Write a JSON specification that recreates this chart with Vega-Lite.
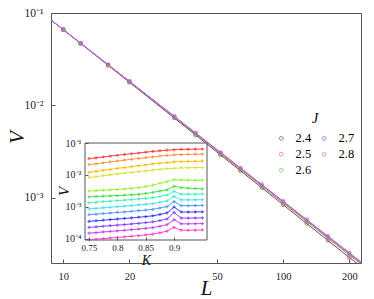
{
  "$schema": "https://vega.github.io/schema/vega-lite/v6.json",
  "width": 310,
  "height": 250,
  "autosize": {"type": "none"},
  "padding": {"left": 51, "top": 13, "right": 13, "bottom": 36},
  "config": {
    "font": "Liberation Serif",
    "view": {"stroke": "#555", "strokeWidth": 1},
    "axis": {"grid": false, "labelFont": "Liberation Serif", "titleFont": "Liberation Serif", "domainColor": "#555", "tickColor": "#555", "labelColor": "#222", "titleColor": "#111", "titleFontWeight": "normal"}
  },
  "datasets": {
    "pts": [
      {"J": "2.4", "L": 10, "V": 0.0661}, {"J": "2.4", "L": 12, "V": 0.0468}, {"J": "2.4", "L": 16, "V": 0.0271}, {"J": "2.4", "L": 20, "V": 0.01774}, {"J": "2.4", "L": 32, "V": 0.00729}, {"J": "2.4", "L": 40, "V": 0.00476}, {"J": "2.4", "L": 52, "V": 0.0029}, {"J": "2.4", "L": 64, "V": 0.00195}, {"J": "2.4", "L": 80, "V": 0.00128}, {"J": "2.4", "L": 100, "V": 0.000838}, {"J": "2.4", "L": 128, "V": 0.000524}, {"J": "2.4", "L": 160, "V": 0.000343}, {"J": "2.4", "L": 200, "V": 0.000225},
      {"J": "2.5", "L": 10, "V": 0.0661}, {"J": "2.5", "L": 12, "V": 0.0469}, {"J": "2.5", "L": 16, "V": 0.02735}, {"J": "2.5", "L": 20, "V": 0.01799}, {"J": "2.5", "L": 32, "V": 0.00746}, {"J": "2.5", "L": 40, "V": 0.0049}, {"J": "2.5", "L": 52, "V": 0.00299}, {"J": "2.5", "L": 64, "V": 0.00203}, {"J": "2.5", "L": 80, "V": 0.00133}, {"J": "2.5", "L": 100, "V": 0.000877}, {"J": "2.5", "L": 128, "V": 0.000552}, {"J": "2.5", "L": 160, "V": 0.000363}, {"J": "2.5", "L": 200, "V": 0.000239},
      {"J": "2.6", "L": 10, "V": 0.0661}, {"J": "2.6", "L": 12, "V": 0.047}, {"J": "2.6", "L": 16, "V": 0.02747}, {"J": "2.6", "L": 20, "V": 0.0181}, {"J": "2.6", "L": 32, "V": 0.00752}, {"J": "2.6", "L": 40, "V": 0.00496}, {"J": "2.6", "L": 52, "V": 0.00304}, {"J": "2.6", "L": 64, "V": 0.00206}, {"J": "2.6", "L": 80, "V": 0.00136}, {"J": "2.6", "L": 100, "V": 0.000895}, {"J": "2.6", "L": 128, "V": 0.000565}, {"J": "2.6", "L": 160, "V": 0.000372}, {"J": "2.6", "L": 200, "V": 0.000245},
      {"J": "2.7", "L": 10, "V": 0.0661}, {"J": "2.7", "L": 12, "V": 0.047}, {"J": "2.7", "L": 16, "V": 0.02754}, {"J": "2.7", "L": 20, "V": 0.01818}, {"J": "2.7", "L": 32, "V": 0.00757}, {"J": "2.7", "L": 40, "V": 0.005}, {"J": "2.7", "L": 52, "V": 0.00307}, {"J": "2.7", "L": 64, "V": 0.00208}, {"J": "2.7", "L": 80, "V": 0.00137}, {"J": "2.7", "L": 100, "V": 0.000908}, {"J": "2.7", "L": 128, "V": 0.000573}, {"J": "2.7", "L": 160, "V": 0.000378}, {"J": "2.7", "L": 200, "V": 0.00025},
      {"J": "2.8", "L": 10, "V": 0.0661}, {"J": "2.8", "L": 12, "V": 0.0471}, {"J": "2.8", "L": 16, "V": 0.02759}, {"J": "2.8", "L": 20, "V": 0.01823}, {"J": "2.8", "L": 32, "V": 0.00761}, {"J": "2.8", "L": 40, "V": 0.00503}, {"J": "2.8", "L": 52, "V": 0.00309}, {"J": "2.8", "L": 64, "V": 0.0021}, {"J": "2.8", "L": 80, "V": 0.00139}, {"J": "2.8", "L": 100, "V": 0.000916}, {"J": "2.8", "L": 128, "V": 0.000579}, {"J": "2.8", "L": 160, "V": 0.000383}, {"J": "2.8", "L": 200, "V": 0.000253}
    ],
    "fit": [
      {"J": "2.4", "L": 8.8, "V": 0.0842}, {"J": "2.4", "L": 230, "V": 0.0001725},
      {"J": "2.5", "L": 8.8, "V": 0.084}, {"J": "2.5", "L": 230, "V": 0.0001837},
      {"J": "2.6", "L": 8.8, "V": 0.0839}, {"J": "2.6", "L": 230, "V": 0.0001889},
      {"J": "2.7", "L": 8.8, "V": 0.0838}, {"J": "2.7", "L": 230, "V": 0.0001925},
      {"J": "2.8", "L": 8.8, "V": 0.0838}, {"J": "2.8", "L": 230, "V": 0.000195}
    ],
    "box": [
      {"K": 0.743, "K2": 0.958, "V": 0.00009, "V2": 0.1}
    ],
    "inset": [
      {"c": 0, "K": 0.75, "V": 0.0324}, {"c": 0, "K": 0.7625, "V": 0.0342}, {"c": 0, "K": 0.775, "V": 0.0364}, {"c": 0, "K": 0.7875, "V": 0.0387}, {"c": 0, "K": 0.8, "V": 0.0412}, {"c": 0, "K": 0.8125, "V": 0.0436}, {"c": 0, "K": 0.825, "V": 0.046}, {"c": 0, "K": 0.8375, "V": 0.0486}, {"c": 0, "K": 0.85, "V": 0.0514}, {"c": 0, "K": 0.8625, "V": 0.0543}, {"c": 0, "K": 0.875, "V": 0.057}, {"c": 0, "K": 0.8875, "V": 0.0594}, {"c": 0, "K": 0.9, "V": 0.0615}, {"c": 0, "K": 0.9125, "V": 0.0628}, {"c": 0, "K": 0.925, "V": 0.0637}, {"c": 0, "K": 0.9375, "V": 0.0641}, {"c": 0, "K": 0.95, "V": 0.0646},
      {"c": 1, "K": 0.75, "V": 0.0209}, {"c": 1, "K": 0.7625, "V": 0.0222}, {"c": 1, "K": 0.775, "V": 0.0238}, {"c": 1, "K": 0.7875, "V": 0.0255}, {"c": 1, "K": 0.8, "V": 0.0272}, {"c": 1, "K": 0.8125, "V": 0.029}, {"c": 1, "K": 0.825, "V": 0.0308}, {"c": 1, "K": 0.8375, "V": 0.0327}, {"c": 1, "K": 0.85, "V": 0.0348}, {"c": 1, "K": 0.8625, "V": 0.0369}, {"c": 1, "K": 0.875, "V": 0.039}, {"c": 1, "K": 0.8875, "V": 0.0407}, {"c": 1, "K": 0.9, "V": 0.0424}, {"c": 1, "K": 0.9125, "V": 0.0434}, {"c": 1, "K": 0.925, "V": 0.044}, {"c": 1, "K": 0.9375, "V": 0.0444}, {"c": 1, "K": 0.95, "V": 0.0447},
      {"c": 2, "K": 0.75, "V": 0.012}, {"c": 2, "K": 0.7625, "V": 0.0128}, {"c": 2, "K": 0.775, "V": 0.0138}, {"c": 2, "K": 0.7875, "V": 0.0148}, {"c": 2, "K": 0.8, "V": 0.016}, {"c": 2, "K": 0.8125, "V": 0.017}, {"c": 2, "K": 0.825, "V": 0.0182}, {"c": 2, "K": 0.8375, "V": 0.0194}, {"c": 2, "K": 0.85, "V": 0.0206}, {"c": 2, "K": 0.8625, "V": 0.022}, {"c": 2, "K": 0.875, "V": 0.0233}, {"c": 2, "K": 0.8875, "V": 0.0244}, {"c": 2, "K": 0.9, "V": 0.0255}, {"c": 2, "K": 0.9125, "V": 0.0261}, {"c": 2, "K": 0.925, "V": 0.0265}, {"c": 2, "K": 0.9375, "V": 0.0267}, {"c": 2, "K": 0.95, "V": 0.0269},
      {"c": 3, "K": 0.75, "V": 0.00832}, {"c": 3, "K": 0.7625, "V": 0.00881}, {"c": 3, "K": 0.775, "V": 0.0094}, {"c": 3, "K": 0.7875, "V": 0.01}, {"c": 3, "K": 0.8, "V": 0.0107}, {"c": 3, "K": 0.8125, "V": 0.0113}, {"c": 3, "K": 0.825, "V": 0.012}, {"c": 3, "K": 0.8375, "V": 0.0127}, {"c": 3, "K": 0.85, "V": 0.0134}, {"c": 3, "K": 0.8625, "V": 0.0142}, {"c": 3, "K": 0.875, "V": 0.0149}, {"c": 3, "K": 0.8875, "V": 0.0156}, {"c": 3, "K": 0.9, "V": 0.0161}, {"c": 3, "K": 0.9125, "V": 0.0165}, {"c": 3, "K": 0.925, "V": 0.0167}, {"c": 3, "K": 0.9375, "V": 0.0169}, {"c": 3, "K": 0.95, "V": 0.017},
      {"c": 4, "K": 0.75, "V": 0.00309}, {"c": 4, "K": 0.7625, "V": 0.00319}, {"c": 4, "K": 0.775, "V": 0.00329}, {"c": 4, "K": 0.7875, "V": 0.0034}, {"c": 4, "K": 0.8, "V": 0.0035}, {"c": 4, "K": 0.8125, "V": 0.00361}, {"c": 4, "K": 0.825, "V": 0.00376}, {"c": 4, "K": 0.8375, "V": 0.00397}, {"c": 4, "K": 0.85, "V": 0.0043}, {"c": 4, "K": 0.8625, "V": 0.00475}, {"c": 4, "K": 0.875, "V": 0.00543}, {"c": 4, "K": 0.8875, "V": 0.00615}, {"c": 4, "K": 0.9, "V": 0.00708}, {"c": 4, "K": 0.9125, "V": 0.00684}, {"c": 4, "K": 0.925, "V": 0.00676}, {"c": 4, "K": 0.9375, "V": 0.00676}, {"c": 4, "K": 0.95, "V": 0.00676},
      {"c": 5, "K": 0.75, "V": 0.00204}, {"c": 5, "K": 0.7625, "V": 0.00209}, {"c": 5, "K": 0.775, "V": 0.00214}, {"c": 5, "K": 0.7875, "V": 0.00219}, {"c": 5, "K": 0.8, "V": 0.00224}, {"c": 5, "K": 0.8125, "V": 0.00229}, {"c": 5, "K": 0.825, "V": 0.00236}, {"c": 5, "K": 0.8375, "V": 0.00245}, {"c": 5, "K": 0.85, "V": 0.0026}, {"c": 5, "K": 0.8625, "V": 0.0028}, {"c": 5, "K": 0.875, "V": 0.00309}, {"c": 5, "K": 0.8875, "V": 0.00339}, {"c": 5, "K": 0.9, "V": 0.00437}, {"c": 5, "K": 0.9125, "V": 0.00398}, {"c": 5, "K": 0.925, "V": 0.0038}, {"c": 5, "K": 0.9375, "V": 0.00372}, {"c": 5, "K": 0.95, "V": 0.00363},
      {"c": 6, "K": 0.75, "V": 0.00133}, {"c": 6, "K": 0.7625, "V": 0.00138}, {"c": 6, "K": 0.775, "V": 0.00144}, {"c": 6, "K": 0.7875, "V": 0.00149}, {"c": 6, "K": 0.8, "V": 0.00155}, {"c": 6, "K": 0.8125, "V": 0.00161}, {"c": 6, "K": 0.825, "V": 0.00167}, {"c": 6, "K": 0.8375, "V": 0.00175}, {"c": 6, "K": 0.85, "V": 0.00183}, {"c": 6, "K": 0.8625, "V": 0.00192}, {"c": 6, "K": 0.875, "V": 0.0021}, {"c": 6, "K": 0.8875, "V": 0.00233}, {"c": 6, "K": 0.9, "V": 0.00302}, {"c": 6, "K": 0.9125, "V": 0.00248}, {"c": 6, "K": 0.925, "V": 0.00247}, {"c": 6, "K": 0.9375, "V": 0.00249}, {"c": 6, "K": 0.95, "V": 0.00251},
      {"c": 7, "K": 0.75, "V": 0.000851}, {"c": 7, "K": 0.7625, "V": 0.000885}, {"c": 7, "K": 0.775, "V": 0.000923}, {"c": 7, "K": 0.7875, "V": 0.000959}, {"c": 7, "K": 0.8, "V": 0.001}, {"c": 7, "K": 0.8125, "V": 0.00104}, {"c": 7, "K": 0.825, "V": 0.00108}, {"c": 7, "K": 0.8375, "V": 0.00114}, {"c": 7, "K": 0.85, "V": 0.00119}, {"c": 7, "K": 0.8625, "V": 0.00125}, {"c": 7, "K": 0.875, "V": 0.00138}, {"c": 7, "K": 0.8875, "V": 0.00153}, {"c": 7, "K": 0.9, "V": 0.00209}, {"c": 7, "K": 0.9125, "V": 0.00164}, {"c": 7, "K": 0.925, "V": 0.00163}, {"c": 7, "K": 0.9375, "V": 0.00164}, {"c": 7, "K": 0.95, "V": 0.00166},
      {"c": 8, "K": 0.75, "V": 0.000562}, {"c": 8, "K": 0.7625, "V": 0.000585}, {"c": 8, "K": 0.775, "V": 0.00061}, {"c": 8, "K": 0.7875, "V": 0.000634}, {"c": 8, "K": 0.8, "V": 0.000661}, {"c": 8, "K": 0.8125, "V": 0.000687}, {"c": 8, "K": 0.825, "V": 0.000715}, {"c": 8, "K": 0.8375, "V": 0.00075}, {"c": 8, "K": 0.85, "V": 0.000785}, {"c": 8, "K": 0.8625, "V": 0.000828}, {"c": 8, "K": 0.875, "V": 0.00091}, {"c": 8, "K": 0.8875, "V": 0.00101}, {"c": 8, "K": 0.9, "V": 0.00145}, {"c": 8, "K": 0.9125, "V": 0.00108}, {"c": 8, "K": 0.925, "V": 0.00107}, {"c": 8, "K": 0.9375, "V": 0.00109}, {"c": 8, "K": 0.95, "V": 0.0011},
      {"c": 9, "K": 0.75, "V": 0.000347}, {"c": 9, "K": 0.7625, "V": 0.000361}, {"c": 9, "K": 0.775, "V": 0.000377}, {"c": 9, "K": 0.7875, "V": 0.000393}, {"c": 9, "K": 0.8, "V": 0.000409}, {"c": 9, "K": 0.8125, "V": 0.000427}, {"c": 9, "K": 0.825, "V": 0.000445}, {"c": 9, "K": 0.8375, "V": 0.000467}, {"c": 9, "K": 0.85, "V": 0.00049}, {"c": 9, "K": 0.8625, "V": 0.000518}, {"c": 9, "K": 0.875, "V": 0.00057}, {"c": 9, "K": 0.8875, "V": 0.000637}, {"c": 9, "K": 0.9, "V": 0.000977}, {"c": 9, "K": 0.9125, "V": 0.000682}, {"c": 9, "K": 0.925, "V": 0.000678}, {"c": 9, "K": 0.9375, "V": 0.000685}, {"c": 9, "K": 0.95, "V": 0.000692},
      {"c": 10, "K": 0.75, "V": 0.000224}, {"c": 10, "K": 0.7625, "V": 0.000233}, {"c": 10, "K": 0.775, "V": 0.000243}, {"c": 10, "K": 0.7875, "V": 0.000254}, {"c": 10, "K": 0.8, "V": 0.000264}, {"c": 10, "K": 0.8125, "V": 0.000275}, {"c": 10, "K": 0.825, "V": 0.000287}, {"c": 10, "K": 0.8375, "V": 0.000301}, {"c": 10, "K": 0.85, "V": 0.000316}, {"c": 10, "K": 0.8625, "V": 0.000334}, {"c": 10, "K": 0.875, "V": 0.000368}, {"c": 10, "K": 0.8875, "V": 0.000411}, {"c": 10, "K": 0.9, "V": 0.000661}, {"c": 10, "K": 0.9125, "V": 0.000441}, {"c": 10, "K": 0.925, "V": 0.000438}, {"c": 10, "K": 0.9375, "V": 0.000442}, {"c": 10, "K": 0.95, "V": 0.000447},
      {"c": 11, "K": 0.75, "V": 0.000148}, {"c": 11, "K": 0.7625, "V": 0.000154}, {"c": 11, "K": 0.775, "V": 0.000161}, {"c": 11, "K": 0.7875, "V": 0.000167}, {"c": 11, "K": 0.8, "V": 0.000175}, {"c": 11, "K": 0.8125, "V": 0.000182}, {"c": 11, "K": 0.825, "V": 0.00019}, {"c": 11, "K": 0.8375, "V": 0.000199}, {"c": 11, "K": 0.85, "V": 0.000209}, {"c": 11, "K": 0.8625, "V": 0.000221}, {"c": 11, "K": 0.875, "V": 0.000243}, {"c": 11, "K": 0.8875, "V": 0.000272}, {"c": 11, "K": 0.9, "V": 0.000389}, {"c": 11, "K": 0.9125, "V": 0.000291}, {"c": 11, "K": 0.925, "V": 0.000289}, {"c": 11, "K": 0.9375, "V": 0.000292}, {"c": 11, "K": 0.95, "V": 0.000295},
      {"c": 12, "K": 0.75, "V": 0.0000912}, {"c": 12, "K": 0.7625, "V": 0.0000953}, {"c": 12, "K": 0.775, "V": 0.0000993}, {"c": 12, "K": 0.7875, "V": 0.000104}, {"c": 12, "K": 0.8, "V": 0.000108}, {"c": 12, "K": 0.8125, "V": 0.000113}, {"c": 12, "K": 0.825, "V": 0.000118}, {"c": 12, "K": 0.8375, "V": 0.000124}, {"c": 12, "K": 0.85, "V": 0.00013}, {"c": 12, "K": 0.8625, "V": 0.000138}, {"c": 12, "K": 0.875, "V": 0.000152}, {"c": 12, "K": 0.8875, "V": 0.000171}, {"c": 12, "K": 0.9, "V": 0.000224}, {"c": 12, "K": 0.9125, "V": 0.000184}, {"c": 12, "K": 0.925, "V": 0.000182}, {"c": 12, "K": 0.9375, "V": 0.000184}, {"c": 12, "K": 0.95, "V": 0.000186}
    ]
  },
  "layer": [
    {
      "encoding": {
        "x": {"field": "L", "type": "quantitative", "scale": {"type": "log", "domain": [8.8, 226], "nice": false},
          "axis": {"values": [10, 20, 50, 100, 200], "format": "d", "title": "L", "titleFontStyle": "italic", "titleFontSize": 21, "titleBaseline": "alphabetic", "titleY": 31, "labelFontSize": 10.5, "tickSize": -4, "labelPadding": 12, "domain": false}},
        "y": {"field": "V", "type": "quantitative", "scale": {"type": "log", "domain": [0.000196, 0.1], "nice": false},
          "axis": {"values": [0.1, 0.01, 0.001], "labelExpr": "datum.value >= 0.09 ? '10⁻¹' : datum.value >= 0.009 ? '10⁻²' : '10⁻³'", "title": "V", "titleFontStyle": "italic", "titleFontSize": 21, "titleBaseline": "alphabetic", "titleX": -28, "titleY": 124, "titleAngle": -90, "labelFontSize": 11.5, "tickSize": -4, "labelPadding": 12, "domain": false}}
      },
      "layer": [
        {"data": {"name": "fit"}, "mark": {"type": "line", "strokeWidth": 1, "clip": true},
          "encoding": {"stroke": {"field": "J", "type": "nominal", "scale": {"domain": ["2.4", "2.5", "2.6", "2.7", "2.8"], "range": ["#555555", "#ff6060", "#50d850", "#5a5aff", "#e060e0"]}, "legend": null}}},
        {"data": {"name": "pts"}, "mark": {"type": "point", "filled": false, "size": 12, "strokeWidth": 1, "clip": true},
          "encoding": {
            "color": {"field": "J", "type": "nominal", "title": "J", "scale": {"domain": ["2.4", "2.5", "2.6", "2.7", "2.8"], "range": ["#555555", "#ff6060", "#50d850", "#5a5aff", "#e060e0"]},
              "legend": {"orient": "none", "legendX": 224, "legendY": 99, "columns": 2, "titleFont": "Liberation Serif", "titleFontStyle": "italic", "titleFontWeight": "normal", "titleFontSize": 14, "titleAnchor": "middle", "titlePadding": 6, "labelFont": "Liberation Serif", "labelFontSize": 12.5, "symbolSize": 14, "symbolStrokeWidth": 1, "rowPadding": 3, "columnPadding": 6, "labelOffset": 8}},
            "shape": {"field": "J", "type": "nominal", "title": "J", "scale": {"domain": ["2.4", "2.5", "2.6", "2.7", "2.8"], "range": ["circle", "square", "triangle-up", "diamond", "triangle-down"]},
              "legend": {"orient": "none", "legendX": 224, "legendY": 99, "columns": 2, "titleFont": "Liberation Serif", "titleFontStyle": "italic", "titleFontWeight": "normal", "titleFontSize": 14, "titleAnchor": "middle", "titlePadding": 6, "labelFont": "Liberation Serif", "labelFontSize": 12.5, "symbolSize": 14, "symbolStrokeWidth": 1, "rowPadding": 3, "columnPadding": 6, "labelOffset": 8}}
          }}
      ]
    },
    {
      "encoding": {
        "x": {"field": "K", "type": "quantitative", "scale": {"domain": [0.743, 0.958], "range": [34, 156], "nice": false, "zero": false},
          "axis": {"orient": "bottom", "offset": -23, "zindex": 1, "values": [0.75, 0.8, 0.85, 0.9], "format": "~g", "title": "K", "titleFontStyle": "italic", "titleFontSize": 14, "titleBaseline": "alphabetic", "titleY": 24, "labelFontSize": 9, "tickSize": -3, "labelPadding": 6, "domain": false}},
        "y": {"field": "V", "type": "quantitative", "scale": {"type": "log", "domain": [0.00009, 0.1], "range": [227, 130], "nice": false},
          "axis": {"orient": "left", "offset": -34, "zindex": 1, "values": [0.1, 0.01, 0.001, 0.0001], "labelExpr": "datum.value >= 0.09 ? '10⁻¹' : datum.value >= 0.009 ? '10⁻²' : datum.value >= 0.0009 ? '10⁻³' : '10⁻⁴'", "title": "V", "titleFontStyle": "italic", "titleFontSize": 15, "titleBaseline": "alphabetic", "titleAngle": -90, "titleX": -17, "titleY": 178, "labelFontSize": 10, "tickSize": -3, "labelPadding": 7, "domain": false}}
      },
      "layer": [
        {"data": {"name": "box"}, "mark": {"type": "rect", "fill": "white", "stroke": "#555", "strokeWidth": 1},
          "encoding": {"x2": {"field": "K2"}, "y2": {"field": "V2"}}},
        {"data": {"name": "inset"}, "mark": {"type": "line", "strokeWidth": 0.9},
          "encoding": {"color": {"field": "c", "type": "nominal", "scale": {"domain": [0, 1, 2, 3, 4, 5, 6, 7, 8, 9, 10, 11, 12], "range": ["#ff2a2a", "#ff8a30", "#ffb400", "#dede20", "#8cf020", "#30e030", "#30f0b0", "#30e0f0", "#3c90ff", "#2828ff", "#8030ff", "#c030f0", "#ff30c8"]}, "legend": null}}},
        {"data": {"name": "inset"}, "mark": {"type": "point", "shape": "cross", "filled": true, "size": 10},
          "encoding": {"color": {"field": "c", "type": "nominal", "legend": null}}}
      ]
    }
  ],
  "resolve": {"scale": {"x": "independent", "y": "independent", "color": "independent"}, "axis": {"x": "independent", "y": "independent"}}
}
